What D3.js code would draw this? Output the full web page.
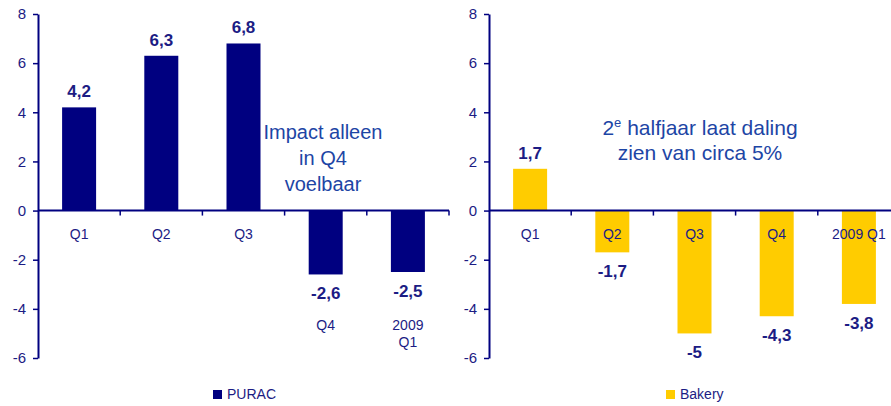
<!DOCTYPE html>
<html>
<head>
<meta charset="utf-8">
<script src="https://cdn.jsdelivr.net/npm/d3@7"></script>
<style>
  body { margin: 0; background: #fff; }
  svg { display: block; font-family: "Liberation Sans", Arial, sans-serif; }
</style>
</head>
<body>
<svg id="chart" width="891" height="406"></svg>
<script>
const categories = ["Q1", "Q2", "Q3", "Q4", "2009 Q1"];
const puracValues = [4.2, 6.3, 6.8, -2.6, -2.5];
const bakeryValues = [1.7, -1.7, -5, -4.3, -3.8];
const yTicks = [-6, -4, -2, 0, 2, 4, 6, 8];
const puracNote = ["Impact alleen", "in Q4", "voelbaar"];
const bakeryNote = ["2e halfjaar laat daling", "zien van circa 5%"];

const navy = "#000080";
const textNavy = "#1c1c84";
const noteBlue = "#1d45a5";

const locale = d3.formatLocale({decimal: ",", thousands: ".", grouping: [3], currency: ["€", ""], minus: "-"});
const fmt = v => locale.format(".1~f")(v);

const svg = d3.select("#chart");

const y = d3.scaleLinear().domain([-6, 8]).range([358, 14]);

function drawPanel(cfg) {
    const g = svg.append("g");
    const x = d3.scaleBand().domain(categories).range([cfg.left, cfg.left + 411]).paddingInner(0);
    const barW = 34;

    // y axis
    const yAxis = g.append("g")
        .attr("transform", `translate(${cfg.left},0)`)
        .call(d3.axisLeft(y).tickValues(yTicks).tickSize(5).tickPadding(7).tickSizeOuter(0)
            .tickFormat(d => locale.format("d")(d)));
    yAxis.select(".domain").attr("stroke", navy).attr("stroke-width", 2);
    yAxis.selectAll(".tick line").attr("stroke", navy).attr("stroke-width", 1.5);
    yAxis.selectAll(".tick text")
        .attr("fill", textNavy).attr("font-size", 15).attr("font-family", "Liberation Sans, Arial, sans-serif");

    // bars
    g.selectAll("rect.bar").data(cfg.values).join("rect")
        .attr("class", "bar")
        .attr("x", (d, i) => x(categories[i]) + x.bandwidth() / 2 - barW / 2)
        .attr("width", barW)
        .attr("y", d => y(Math.max(0, d)))
        .attr("height", d => Math.abs(y(d) - y(0)))
        .attr("fill", cfg.color);

    // zero line with category ticks
    g.append("line")
        .attr("x1", cfg.left).attr("x2", cfg.left + 411)
        .attr("y1", y(0)).attr("y2", y(0))
        .attr("stroke", navy).attr("stroke-width", 2);
    g.selectAll("line.ctick").data(categories).join("line")
        .attr("class", "ctick")
        .attr("x1", (d, i) => cfg.left + x.bandwidth() * (i + 1))
        .attr("x2", (d, i) => cfg.left + x.bandwidth() * (i + 1))
        .attr("y1", y(0)).attr("y2", y(0) + 5)
        .attr("stroke", navy).attr("stroke-width", 1.5);

    // value labels
    g.selectAll("text.val").data(cfg.values).join("text")
        .attr("class", "val")
        .attr("x", (d, i) => x(categories[i]) + x.bandwidth() / 2)
        .attr("y", d => d >= 0 ? y(d) - 10 : y(d) + 25)
        .attr("text-anchor", "middle")
        .attr("font-size", 17).attr("font-weight", "bold")
        .attr("fill", textNavy)
        .text(d => fmt(d));

    // category labels
    categories.forEach((c, i) => {
        const low = cfg.lowNegLabels && cfg.values[i] < 0;
        const t = g.append("text")
            .attr("x", x(c) + x.bandwidth() / 2)
            .attr("y", low ? 330 : 239)
            .attr("text-anchor", "middle")
            .attr("font-size", 14)
            .attr("fill", textNavy);
        const parts = low ? c.split(" ") : [c];
        parts.forEach((p, k) => {
            t.append("tspan").attr("x", x(c) + x.bandwidth() / 2).attr("dy", k ? 17 : 0).text(p);
        });
    });

    // legend
    g.append("rect").attr("x", cfg.legendX).attr("y", 390).attr("width", 9).attr("height", 9).attr("fill", cfg.color);
    g.append("text").attr("x", cfg.legendX + 14).attr("y", 399)
        .attr("font-size", 14).attr("fill", textNavy).text(cfg.name);
}

drawPanel({left: 38, values: puracValues, color: navy, name: "PURAC", legendX: 213, lowNegLabels: true});
drawPanel({left: 489, values: bakeryValues, color: "#ffcc00", name: "Bakery", legendX: 666, lowNegLabels: false});

// notes
const n1 = svg.append("text").attr("text-anchor", "middle").attr("font-size", 20).attr("fill", noteBlue);
puracNote.forEach((s, k) => n1.append("tspan").attr("x", 323).attr("y", 139 + k * 26).text(s));

const n2 = svg.append("text").attr("text-anchor", "middle").attr("font-size", 21).attr("fill", noteBlue);
n2.append("tspan").attr("x", 700).attr("y", 135).text("2");
n2.append("tspan").attr("font-size", 13).attr("dy", -8).text("e");
n2.append("tspan").attr("dy", 8).text(bakeryNote[0].slice(2));
n2.append("tspan").attr("x", 700).attr("y", 160).text(bakeryNote[1]);
</script>
</body>
</html>
